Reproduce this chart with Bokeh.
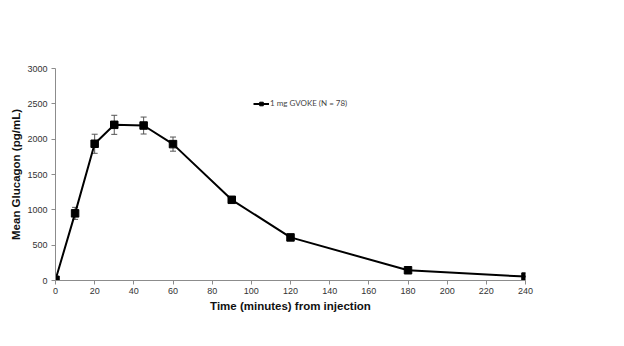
from bokeh.plotting import figure
from bokeh.models import Range1d, ColumnDataSource, Whisker, TeeHead, Legend, LegendItem, FixedTicker
from bokeh.embed import file_html
from bokeh.resources import INLINE

time_min = [0, 10, 20, 30, 45, 60, 90, 120, 180, 240]
glucagon = [10, 950, 1935, 2203, 2193, 1930, 1142, 610, 145, 55]
sem = [0, 85, 135, 135, 120, 100, 40, 20, 10, 5]
series_name = "1 mg GVOKE (N = 78)"
x_ticks = list(range(0, 241, 20))
y_ticks = list(range(0, 3001, 500))

upper = [g + s for g, s in zip(glucagon, sem)]
lower = [g - s for g, s in zip(glucagon, sem)]
src = ColumnDataSource(dict(x=time_min, y=glucagon, upper=upper, lower=lower))

p = figure(width=624, height=346, output_backend="svg", toolbar_location=None,
           x_range=Range1d(0, 240), y_range=Range1d(0, 3000),
           min_border_left=55, min_border_right=99, min_border_top=68, min_border_bottom=66)
p.outline_line_color = None
p.xgrid.visible = False
p.ygrid.visible = False
p.background_fill_color = "white"

w = Whisker(source=src, base="x", upper="upper", lower="lower",
            line_color="#555555", line_width=1,
            upper_head=TeeHead(size=6, line_color="#555555", line_width=1),
            lower_head=TeeHead(size=6, line_color="#555555", line_width=1))
p.add_layout(w)

r_line = p.line("x", "y", source=src, line_color="black", line_width=2)
r_mark = p.scatter("x", "y", source=src, marker="square", size=7.5, fill_color="black", line_color="black")

for ax in (p.xaxis[0], p.yaxis[0]):
    ax.axis_line_color = "#8c8c8c"
    ax.major_tick_line_color = "#8c8c8c"
    ax.minor_tick_line_color = None
    ax.major_tick_out = 4
    ax.major_tick_in = 0
    ax.major_label_text_font = "Liberation Sans"
    ax.major_label_text_font_size = "9px"
    ax.major_label_text_color = "#333333"
    ax.axis_label_text_font = "Liberation Sans"
    ax.axis_label_text_font_style = "bold"
    ax.axis_label_text_font_size = "11.5px"
    ax.axis_label_text_color = "#111111"

p.xaxis.ticker = FixedTicker(ticks=x_ticks)
p.yaxis.ticker = FixedTicker(ticks=y_ticks)
p.xaxis.major_label_standoff = 3
p.yaxis.major_label_standoff = 4
p.xaxis.axis_label = "Time (minutes) from injection"
p.yaxis.axis_label = "Mean Glucagon (pg/mL)"
p.xaxis.axis_label_standoff = 3
p.yaxis.axis_label_standoff = 2

legend = Legend(items=[LegendItem(label=series_name, renderers=[r_line, r_mark])],
                location=(198, 172), border_line_color=None, background_fill_alpha=0,
                label_text_font="Lato", label_text_font_size="8px",
                glyph_width=16, glyph_height=9, label_standoff=1, padding=2, margin=0)
p.add_layout(legend)

open("out.html", "w").write(file_html(p, INLINE))
